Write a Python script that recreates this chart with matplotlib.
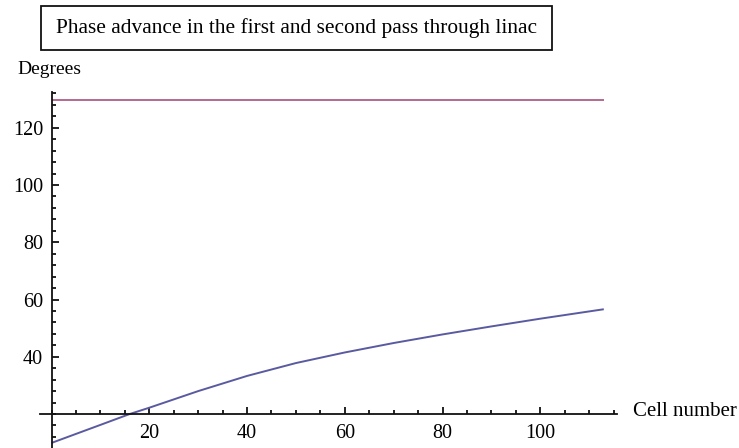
import matplotlib.pyplot as plt
from matplotlib.patches import Rectangle
from matplotlib.ticker import MultipleLocator

# cell index and phase advance (degrees) for the two passes
cells = [0, 10, 16, 20, 30, 40, 50, 60, 70, 80, 90, 100, 113]
first_pass = [9.9, 16.2, 20.0, 22.2, 28.0, 33.3, 37.8, 41.5, 44.8, 47.8, 50.6, 53.3, 56.6]
second_pass_cells = [0, 113]
second_pass = [129.8, 129.8]

title = "Phase advance in the first and second pass through linac"

plt.rcParams['font.family'] = ['Liberation Serif', 'DejaVu Serif']

W, H = 739, 448
fig = plt.figure(figsize=(W / 100, H / 100), dpi=100)
ax = fig.add_axes([40 / W, 0, 577 / W, 356 / H])
ax.set_xlim(-2.37, 115.7)
ax.set_ylim(8.12, 132.5)

ax.plot(cells, first_pass, color='#5a5aa0', lw=1.4, solid_capstyle='butt')
ax.plot(second_pass_cells, second_pass, color='#b66892', lw=1.4, solid_capstyle='butt')

# axes cross at (0, 20) like the Mathematica default
ax.spines['left'].set_position(('data', 0))
ax.spines['bottom'].set_position(('data', 20))
ax.spines['top'].set_visible(False)
ax.spines['right'].set_visible(False)
for s in ('left', 'bottom'):
    ax.spines[s].set_linewidth(1.3)
    ax.spines[s].set_color('#111111')

ax.xaxis.set_minor_locator(MultipleLocator(5))
ax.yaxis.set_minor_locator(MultipleLocator(4))
ax.set_xticks([20, 40, 60, 80, 100])
ax.set_yticks([40, 60, 80, 100, 120])
ax.tick_params(which='both', direction='in', color='#111111', width=1.3,
               labelsize=14.5)
ax.tick_params(which='major', length=5)
ax.tick_params(which='minor', length=3)
ax.tick_params(axis='x', pad=7)
ax.tick_params(axis='y', pad=6)

fig.text(17 / W, 1 - 69 / H, "Degrees", fontsize=14, ha='left', va='center')
fig.text(633 / W, 1 - 412 / H, "Cell number", fontsize=15, ha='left', va='center')

# framed title
fig.patches.append(Rectangle((41 / W, 1 - 50 / H), 511 / W, 44 / H,
                             transform=fig.transFigure, facecolor='white',
                             edgecolor='#111111', linewidth=1.3))
fig.text(297 / W, 1 - 28 / H, title, fontsize=15.4, ha='center', va='center')

fig.savefig('out.png', dpi=100)
